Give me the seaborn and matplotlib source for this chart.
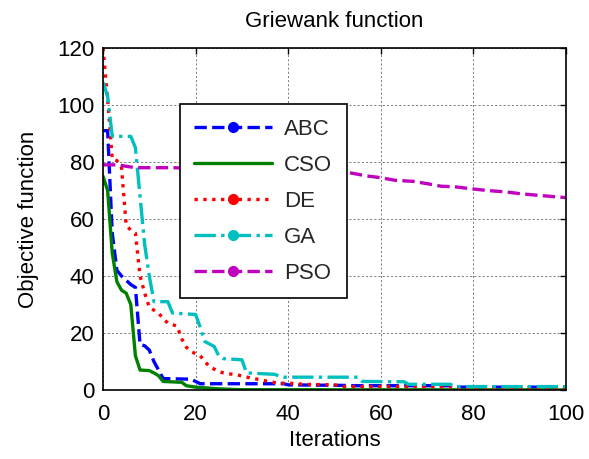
import matplotlib
matplotlib.use("Agg")
import matplotlib.pyplot as plt
from matplotlib.lines import Line2D
import seaborn as sns

# Convergence curves (iteration, best objective value) per algorithm
abc_iter = [0, 1, 2, 3, 4, 6, 7, 8, 9, 10, 11, 12, 13, 19, 20, 21, 39, 40, 53, 54, 75, 76, 100]
abc_val = [91, 91, 55, 42, 40, 37, 36, 16, 15.5, 14, 10, 7, 4, 3.8, 3, 2.2, 2.2, 1.8, 1.6, 1.5, 1.5, 1.0, 1.0]

cso_iter = [0, 1, 2, 3, 4, 5, 6, 7, 8, 10, 11, 12, 13, 17, 18, 20, 25, 30, 100]
cso_val = [75, 70, 48, 38, 35, 34, 30, 12, 7, 6.8, 6, 5, 3, 2.7, 1.5, 1, 0.4, 0.1, 0.05]

de_iter = [0, 1, 2, 3, 4, 5, 6, 7, 8, 9, 10, 11, 12, 13, 14, 16, 17, 18, 19, 21, 22, 23, 25, 26, 28, 29, 32, 33,
           36, 38, 42, 43, 50, 52, 75, 76, 100]
de_val = [120, 102, 81, 80.5, 78, 58, 56, 55, 40, 34, 29, 28, 27, 25, 23.5, 22.4, 18, 15, 13.5, 12, 10, 8.2, 6.5,
          6, 5.5, 5.3, 4.2, 3.9, 2.9, 2.4, 2.3, 2, 1.8, 1.2, 1.2, 0.4, 0.4]

ga_iter = [0, 1, 2, 6, 7, 8, 9, 10, 11, 14, 15, 20, 21, 22, 24, 25, 26, 30, 31, 37, 38, 39, 55, 56, 65, 66, 75, 76, 100]
ga_val = [108, 103, 89, 89, 85, 68, 51, 40, 31, 31, 27, 26.5, 22, 17, 15.3, 12, 11, 10.6, 6, 5.5, 5, 4.5, 4.5, 3,
          2.9, 2, 2, 1.2, 1.2]

pso_iter = [0, 3, 5, 7, 15, 25, 40, 52, 53, 57, 60, 63, 67, 70, 73, 76, 79, 83, 87, 90, 94, 100]
pso_val = [79, 79, 78.5, 78, 78, 77.5, 77, 76.5, 76.3, 75.1, 74.5, 73.6, 73.2, 72.4, 71.5, 71.3, 70.7, 70, 69.5,
           68.9, 68.3, 67.5]

names = ["ABC", "CSO", "DE", "GA", "PSO"]
colors = ["#0000ff", "#008000", "#ff0000", "#00bfbf", "#bf00bf"]
styles = ["--", "-", ":", "-.", "--"]
markers = ["o", None, "o", "o", "o"]
series = [(abc_iter, abc_val), (cso_iter, cso_val), (de_iter, de_val), (ga_iter, ga_val), (pso_iter, pso_val)]

x_ticks = [0, 20, 40, 60, 80, 100]
y_ticks = [0, 20, 40, 60, 80, 100, 120]

sns.set_theme(style="white")
plt.rcParams["font.family"] = ["Liberation Sans", "DejaVu Sans"]

fs = 16
fig = plt.figure(figsize=(5.89, 4.59), dpi=100)
ax = fig.add_axes([103 / 589, 1 - 390 / 459, 463 / 589, 342 / 459])

lw = 2.4
for (xs, ys), c, ls in zip(series, colors, styles):
    sns.lineplot(x=xs, y=ys, color=c, linestyle=ls, linewidth=lw, ax=ax,
                 estimator=None, sort=False, legend=False)

ax.set_xlim(0, 100)
ax.set_ylim(0, 120)
ax.set_xticks(x_ticks)
ax.set_yticks(y_ticks)
ax.grid(True, color="0.4", linestyle=(0, (2.5, 2.5)), linewidth=0.6)
for s in ax.spines.values():
    s.set_color("black")
    s.set_linewidth(1.2)
ax.tick_params(axis="both", direction="in", top=True, right=True, length=4, width=1,
               color="black", labelsize=fs, labelcolor="black")
ax.tick_params(axis="x", pad=10)
ax.tick_params(axis="y", pad=6)

ax.set_title("Griewank function", fontsize=fs, pad=15, color="black")
ax.set_xlabel("Iterations", fontsize=fs, color="black", labelpad=4)
ax.set_ylabel("Objective function", fontsize=fs, color="black", labelpad=13)

handles = [Line2D([], [], color=c, linestyle=ls, linewidth=lw, marker=m, markersize=7)
           for c, ls, m in zip(colors, styles, markers)]
leg = ax.legend(handles, names, loc="upper left", bbox_to_anchor=(0.166, 0.836), borderaxespad=0,
                fontsize=fs, frameon=True, fancybox=False, framealpha=1, edgecolor="black",
                handlelength=3.5, handletextpad=0.55, labelspacing=0.68, borderpad=0.65, numpoints=1)
leg.get_frame().set_linewidth(1.2)

fig.savefig("out.png", dpi=100)
